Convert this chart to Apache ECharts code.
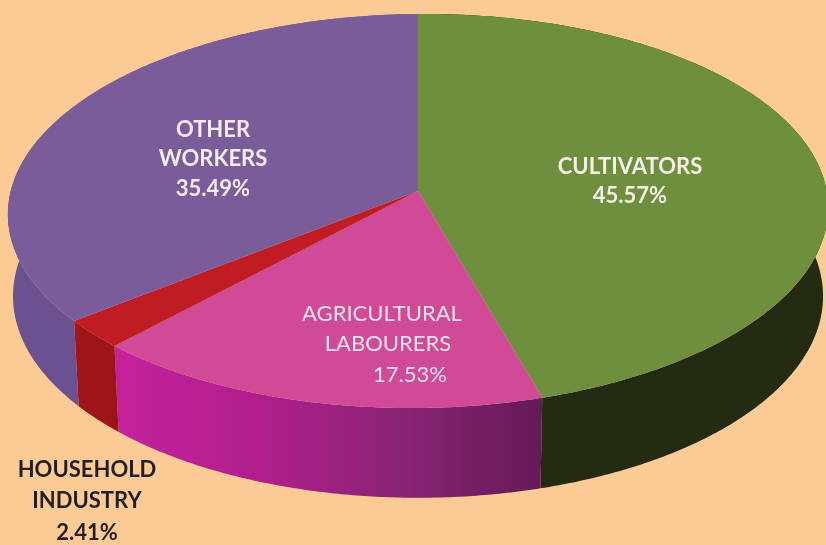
<!DOCTYPE html>
<html>
<head>
<meta charset="utf-8">
<title>Workers by category</title>
<style>
html, body { margin: 0; padding: 0; background: #fcca94; }
#pie3d { width: 826px; height: 545px; }
</style>
<script src="https://cdn.jsdelivr.net/npm/echarts@6/dist/echarts.min.js"></script>
</head>
<body>
<div id="pie3d"></div>
<script>
const categories = ['CULTIVATORS', 'AGRICULTURAL LABOURERS', 'HOUSEHOLD INDUSTRY', 'OTHER WORKERS'];
// angles as drawn in the picture; the printed 17.53% would make the total 101
const sliceValues = [45.57, 16.53, 2.41, 35.49];
const labelLines = [
	['CULTIVATORS', '45.57%'],
	['AGRICULTURAL', 'LABOURERS', '17.53%'],
	['HOUSEHOLD', 'INDUSTRY', '2.41%'],
	['OTHER', 'WORKERS', '35.49%']
];

const topColors = ['#6e8f3e', '#d04a98', '#c01c24', '#7a5c9b'];
const wallColors = [
	['#232b13', '#232b13'],
	['#c4229c', '#b11f8c', '#8a2474', '#651a58'],
	['#a01519', '#9a1418'],
	['#6a5290', '#664f8c']
];
const labelCentres = [[630, 630], [382, 388, 410], [87, 87, 87], [213, 213, 213]];
const labelRows = [[167, 196], [314, 344, 375], [470, 501, 533], [130, 159, 189]];
const labelColors = ['#f6efe8', '#f6e6ea', '#231f20', '#f3ecf0'];
const labelWeights = ['bold', 'normal', 'bold', 'bold'];

// rim perspective: x = cx + k*u/(1+c*v), y = (a*v+b)/(1+c*v) - tilt*(x-cx)
const topRim = { cx: 418, k: 408, a: 175.6, b: 191, c: -0.1015, tilt: 0.008 };
const bottomRim = { cx: 418, k: 403, a: 172, b: 276, c: -0.1, tilt: 0 };

const total = sliceValues.reduce((s, v) => s + v, 0);

const rimPoint = (rim, deg) => {
	const t = deg * Math.PI / 180;
	const u = Math.sin(t);
	const v = -Math.cos(t);
	const d = 1 + rim.c * v;
	const dx = rim.k * u / d;
	return [rim.cx + dx, (rim.a * v + rim.b) / d - rim.tilt * dx];
};

const rimArc = (rim, from, to) => {
	const pts = [];
	const steps = Math.max(2, Math.ceil((to - from) * 2));
	for (let i = 0; i <= steps; i++) {
		pts.push(rimPoint(rim, from + (to - from) * i / steps));
	}
	return pts;
};

const wallFill = stops => new echarts.graphic.LinearGradient(
	0, 0, 1, 0,
	stops.map((color, i) => ({ offset: i / (stops.length - 1), color: color }))
);

const renderSlice = (params, api) => {
	const i = params.dataIndex;
	let before = 0;
	for (let j = 0; j < i; j++) before += sliceValues[j];
	const from = before / total * 360;
	const to = (before + api.value(0)) / total * 360;
	const topArc = rimArc(topRim, from, to);
	const bottomArc = rimArc(bottomRim, from, to).reverse();
	return {
		type: 'group',
		children: [
			{
				type: 'polygon',
				z2: 1,
				shape: { points: topArc.concat(bottomArc) },
				style: { fill: wallFill(wallColors[i]) }
			},
			{
				type: 'polygon',
				z2: 2,
				shape: { points: [[topRim.cx, topRim.b]].concat(topArc) },
				style: { fill: topColors[i] }
			}
		]
	};
};

const labelGraphics = [];
labelLines.forEach((lines, i) => {
	lines.forEach((line, n) => {
		labelGraphics.push({
			type: 'text',
			x: labelCentres[i][n],
			y: labelRows[i][n],
			z: 10,
			style: {
				text: line,
				fill: labelColors[i],
				font: labelWeights[i] + ' 22px Lato, "Open Sans", sans-serif',
				textAlign: 'center',
				textVerticalAlign: 'middle'
			}
		});
	});
});

const myChart = echarts.init(document.getElementById('pie3d'), null, { renderer: 'canvas', devicePixelRatio: 1 });
myChart.setOption({
	animation: false,
	backgroundColor: '#fcca94',
	graphic: labelGraphics,
	series: [
		{
			type: 'custom',
			coordinateSystem: 'none',
			renderItem: renderSlice,
			data: sliceValues.map((v, i) => ({ name: categories[i], value: v }))
		}
	]
});
</script>
</body>
</html>
